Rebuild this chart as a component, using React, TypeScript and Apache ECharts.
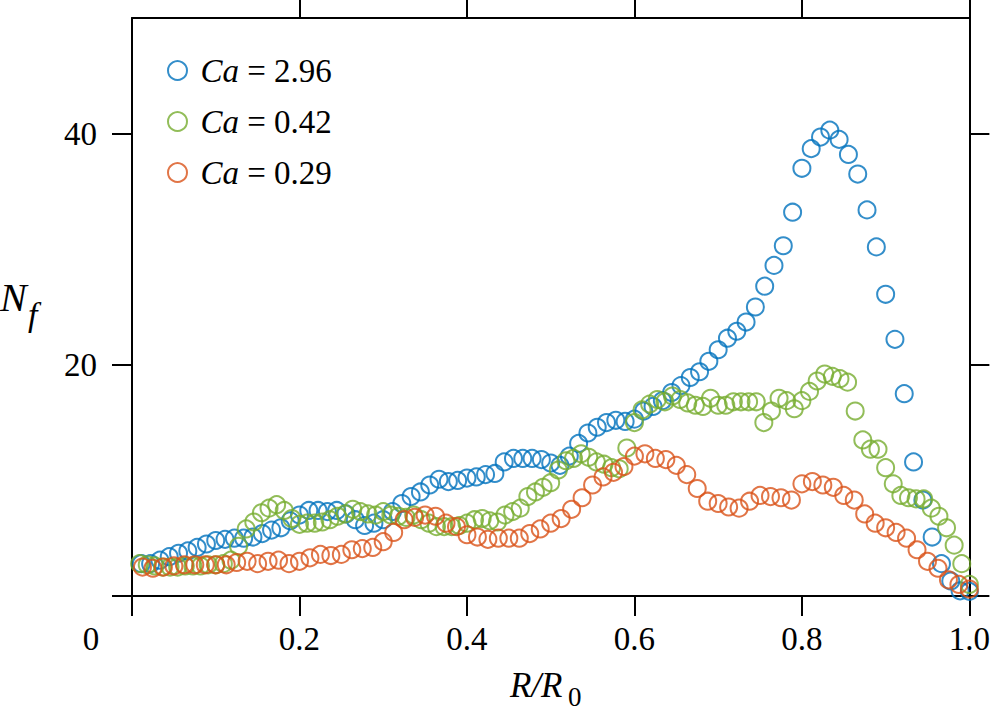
import React, { useRef, useEffect } from 'react'
import * as echarts from 'echarts'

// N_f, one value per sample along R/R0
const blueN = [
  2.8, 2.8, 3.1, 3.4, 3.7, 3.9, 4.2, 4.5, 4.8, 4.9,
  5.0, 5.0, 5.1, 5.4, 5.7, 5.9, 6.5, 7.0, 7.4, 7.4,
  7.3, 7.4, 7.1, 6.6, 6.1, 6.3, 6.6, 7.3, 8.0, 8.6,
  9.0, 9.6, 10.1, 9.9, 10.0, 10.2, 10.3, 10.5, 10.6, 11.6,
  11.9, 11.9, 11.9, 11.8, 11.5, 11.3, 12.1, 13.2, 14.1, 14.6,
  15.0, 15.2, 15.1, 15.3, 16.0, 16.4, 16.9, 17.6, 18.2, 18.9,
  19.4, 20.3, 21.3, 22.3, 22.9, 23.7, 25.0, 26.8, 28.6, 30.3,
  33.2, 37.0, 38.7, 39.7, 40.3, 39.5, 38.2, 36.5, 33.4, 30.2,
  26.1, 22.2, 17.5, 11.6, 8.3, 5.1, 2.8, 1.3, 0.45, 0.4,
]

const greenN = [
  2.8, 2.7, 2.6, 2.5, 2.5, 2.5, 2.6, 2.6, 2.6, 2.7,
  2.7, 2.8, 3.1, 4.3, 5.8, 6.4, 7.2, 7.6, 7.9, 7.4,
  6.7, 6.2, 6.3, 6.3, 6.4, 6.6, 6.9, 7.1, 7.5, 7.3,
  7.1, 7.0, 7.3, 7.0, 6.9, 6.8, 7.0, 6.6, 6.3, 6.0,
  6.0, 6.0, 6.1, 6.3, 6.6, 6.7, 6.5, 6.4, 7.0, 7.3,
  7.6, 8.6, 9.0, 9.4, 9.8, 10.9, 11.7, 11.9, 12.3, 12.0,
  11.6, 11.4, 11.1, 11.0, 12.8, 15.0, 16.1, 16.6, 17.0, 16.8,
  17.3, 17.0, 16.7, 16.5, 16.4, 17.1, 16.5, 16.5, 16.8, 16.8,
  16.8, 16.8, 15.0, 16.0, 17.1, 16.9, 16.2, 16.9, 17.7, 18.6,
  19.2, 19.0, 18.8, 18.5, 16.0, 13.5, 12.7, 12.7, 11.1, 9.7,
  8.7, 8.5, 8.4, 8.4, 7.6, 6.9, 5.9, 4.4, 2.8, 1.0,
]

const orangeN = [
  2.5, 2.4, 2.5, 2.6, 2.7, 2.7, 2.7, 2.7, 2.7, 2.9,
  3.0, 2.8, 3.0, 3.1, 2.8, 3.0, 3.3, 3.6, 3.5, 3.6,
  4.0, 4.1, 4.2, 4.7, 5.5, 6.6, 6.8, 7.0, 6.9, 6.3,
  6.0, 5.3, 5.1, 4.9, 5.0, 5.0, 5.0, 5.4, 5.8, 6.3,
  6.7, 7.5, 8.5, 9.6, 10.3, 10.7, 11.2, 12.1, 12.3, 11.9,
  11.8, 11.3, 10.5, 9.3, 8.2, 8.0, 7.7, 7.6, 8.2, 8.7,
  8.6, 8.5, 8.3, 9.7, 9.9, 9.6, 9.4, 8.7, 8.3, 7.1,
  6.3, 5.9, 5.5, 5.0, 4.0, 3.0, 2.4, 1.4, 1.0, 0.6,
]

// samples are evenly spaced in R/R0, each set with its own step
const seriesSteps = [1 / 90, 1 / 110, 1 / 80]
const seriesNames = ['Ca = 2.96', 'Ca = 0.42', 'Ca = 0.29']
const seriesColors = ['#0072BD', '#77AC30', '#D95319']
const xTicks = [0, 0.2, 0.4, 0.6, 0.8, 1.0]
const yTicks = [0, 20, 40]

const FONT = 'Liberation Serif, Times New Roman, serif'

const toPoints = (vals: number[], step: number) => vals.map((v, i) => [(i + 1) * step, v])

function App() {
  const chartRef = useRef<HTMLDivElement>(null)

  useEffect(() => {
    const chart = echarts.init(chartRef.current, null, { renderer: 'svg' })

    const line = { show: true, onZero: false, lineStyle: { color: '#000', width: 2 } }
    const tick = (values: number[]) => ({
      show: true,
      length: 20,
      customValues: values,
      lineStyle: { color: '#000', width: 2 },
    })
    const label = { fontFamily: FONT, fontSize: 33, color: '#000' }

    const option = {
      animation: false,
      grid: { left: 132, right: 23, top: 18, bottom: 124 },
      xAxis: [
        {
          type: 'value',
          position: 'bottom',
          min: 0,
          max: 1,
          axisLine: line,
          axisTick: tick(xTicks),
          axisLabel: {
            ...label,
            margin: 26,
            customValues: xTicks.slice(1),
            formatter: (v: number) => v.toFixed(1),
          },
          splitLine: { show: false },
        },
        {
          type: 'value',
          position: 'top',
          min: 0,
          max: 1,
          axisLine: line,
          axisTick: tick(xTicks.slice(1)),
          axisLabel: { show: false },
          splitLine: { show: false },
        },
      ],
      yAxis: [
        {
          type: 'value',
          position: 'left',
          min: 0,
          max: 50,
          axisLine: line,
          axisTick: tick(yTicks),
          axisLabel: { ...label, margin: 35, customValues: yTicks.slice(1) },
          splitLine: { show: false },
        },
        {
          type: 'value',
          position: 'right',
          min: 0,
          max: 50,
          axisLine: line,
          axisTick: tick(yTicks),
          axisLabel: { show: false },
          splitLine: { show: false },
        },
      ],
      legend: {
        orient: 'vertical',
        left: 162,
        top: 49,
        itemWidth: 36,
        itemHeight: 19,
        itemGap: 18,
        selectedMode: false,
        data: seriesNames,
        formatter: (name: string) => name.replace('Ca', '{i|Ca}'),
        textStyle: {
          ...label,
          lineHeight: 33,
          rich: { i: { ...label, fontStyle: 'italic' } },
        },
      },
      series: seriesNames.map((name, i) => ({
        type: 'scatter',
        name,
        data: toPoints([blueN, greenN, orangeN][i], seriesSteps[i]),
        symbol: 'circle',
        symbolSize: 17,
        clip: false,
        silent: true,
        itemStyle: { color: 'rgba(0,0,0,0)', borderColor: seriesColors[i], borderWidth: 2 },
      })),
      graphic: [
        {
          type: 'text',
          x: 91,
          y: 639,
          style: { text: '0', font: `33px ${FONT}`, fill: '#000', textAlign: 'center', textVerticalAlign: 'middle' },
        },
        {
          type: 'text',
          x: 510,
          y: 685,
          style: { text: 'R/R', font: `italic 35px ${FONT}`, fill: '#000', textAlign: 'left', textVerticalAlign: 'middle' },
        },
        {
          type: 'text',
          x: 568,
          y: 697,
          style: { text: '0', font: `27px ${FONT}`, fill: '#000', textAlign: 'left', textVerticalAlign: 'middle' },
        },
        {
          type: 'text',
          x: 0,
          y: 297,
          style: { text: 'N', font: `italic 40px ${FONT}`, fill: '#000', textAlign: 'left', textVerticalAlign: 'middle' },
        },
        {
          type: 'text',
          x: 28,
          y: 314,
          style: { text: 'f', font: `italic 34px ${FONT}`, fill: '#000', textAlign: 'left', textVerticalAlign: 'middle' },
        },
      ],
    }

    chart.setOption(option)

    return () => {
      chart.dispose()
    }
  }, [])

  return (
    <div
      ref={chartRef}
      style={{ position: 'absolute', left: 0, top: 0, width: 993, height: 720, background: '#fff' }}
    ></div>
  )
}

export default App
